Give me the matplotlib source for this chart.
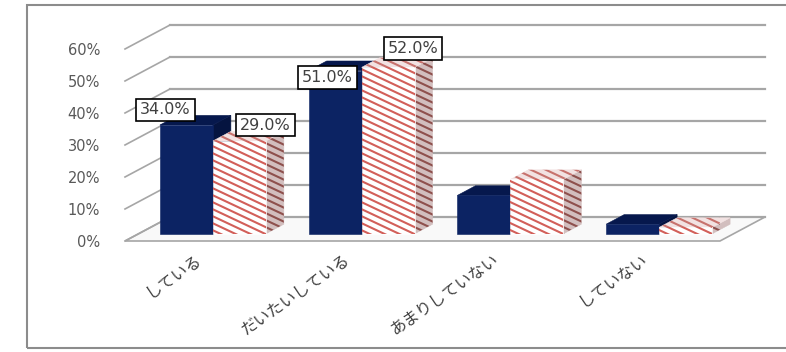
import numpy as np
import matplotlib.pyplot as plt
from matplotlib.patches import Polygon, Rectangle
from matplotlib.collections import LineCollection

categories = ['している', 'だいたいしている', 'あまりしていない', 'していない']
series_a = [34.0, 51.0, 12.0, 3.0]   # navy bars
series_b = [29.0, 52.0, 17.0, 2.0]   # hatched bars
labelled = [0, 1]                    # groups that carry data labels
yticks = [0, 10, 20, 30, 40, 50, 60]
ytick_labels = ['0%', '10%', '20%', '30%', '40%', '50%', '60%']

# label offsets in pixels (a, b) for each labelled group
label_off_a = [(-21, 15), (-8, -7)]
label_off_b = [(26, 16), (25, 19)]

W, H = 786, 352
fig = plt.figure(figsize=(W / 100, H / 100), dpi=100)
# front plane: x -0.5..3.5 -> px 125..720, y 0..60 -> px 241..49
ax = fig.add_axes([125 / W, (H - 241) / H, 595 / W, 192 / H])
ax.set_xlim(-0.5, 3.5)
ax.set_ylim(0, 60)
for s in ax.spines.values():
    s.set_visible(False)

px_x, px_y = 148.75, 3.2   # pixels per data unit
DX = 45 / px_x     # full depth, category units
DY = 24 / px_y     # full depth, percent units
f0, f1 = 0.3, 0.7  # bar front / back depth
bw = 0.356

grid_c = '#a6a6a6'
x_lo, x_hi = -0.5, 3.5

# floor
floor = Polygon([(x_lo, 0), (x_hi, 0), (x_hi + DX, DY), (x_lo + DX, DY)],
                closed=True, facecolor='#f9f9f9', edgecolor=grid_c, lw=1.2,
                clip_on=False, zorder=1)
ax.add_patch(floor)

# back wall gridlines and left wall diagonals
for v in yticks:
    ax.plot([x_lo + DX, x_hi + DX], [v + DY, v + DY], color=grid_c, lw=1.6,
            clip_on=False, zorder=2)
    ax.plot([x_lo, x_lo + DX], [v, v + DY], color=grid_c, lw=1.2,
            clip_on=False, zorder=2)

# stripe family for the hatched series (slope ~ -0.47 in pixels, 7 px apart)
slope = -0.47 * px_x / px_y
step = 7 / px_y
xs = np.array([-0.7, 4.0])
stripe_segs = [np.column_stack([xs, c + slope * (xs - xs[0])])
               for c in np.arange(-10, 160, step)]


def bar3d(x0, x1, v, front, top, side, stripes=None, z=3):
    ox0, oy0 = f0 * DX, f0 * DY
    ox1, oy1 = f1 * DX, f1 * DY
    faces = [
        ([(x1 + ox0, oy0), (x1 + ox1, oy1), (x1 + ox1, v + oy1), (x1 + ox0, v + oy0)], side),
        ([(x0 + ox0, v + oy0), (x1 + ox0, v + oy0), (x1 + ox1, v + oy1), (x0 + ox1, v + oy1)], top),
        ([(x0 + ox0, oy0), (x1 + ox0, oy0), (x1 + ox0, v + oy0), (x0 + ox0, v + oy0)], front),
    ]
    for pts, fc in faces:
        p = Polygon(pts, closed=True, facecolor=fc, edgecolor=fc, lw=0.4,
                    clip_on=False, zorder=z)
        ax.add_patch(p)
        if stripes:
            lc = LineCollection(stripe_segs, colors=stripes[fc], linewidths=1.5,
                                zorder=z)
            ax.add_collection(lc)
            lc.set_clip_path(p)


stripe_cols = {'#ffffff': '#d25f59', '#f2e2e2': '#c7726d', '#d2bebe': '#8e504d'}
z = 3
for i in range(len(categories)):
    bar3d(i - bw, i, series_a[i], '#0c2363', '#06184d', '#051440', z=z)
    z += 1
    bar3d(i, i + bw, series_b[i], '#ffffff', '#f2e2e2', '#d2bebe',
          stripes=stripe_cols, z=z)
    z += 1

# data labels
box = dict(boxstyle='square,pad=0.25', facecolor='white', edgecolor='black', lw=1.2)
for k, i in enumerate(labelled):
    for vals, xc, off in [(series_a, i - bw / 2, label_off_a[k]),
                          (series_b, i + bw / 2, label_off_b[k])]:
        v = vals[i]
        ax.annotate(f'{v:.1f}%', xy=(xc + f0 * DX, v + f0 * DY),
                    xytext=off, textcoords='offset pixels',
                    ha='center', va='center', fontsize=11.5, color='#404040',
                    family='DejaVu Sans', bbox=box, zorder=50,
                    annotation_clip=False)

ax.set_yticks(yticks)
ax.set_yticklabels(ytick_labels, fontsize=10.5, color='#595959', family='DejaVu Sans')
ax.set_xticks(range(len(categories)))
ax.set_xticklabels(categories, rotation=35, ha='right', va='center',
                   rotation_mode='anchor', fontsize=11.5, color='#404040',
                   family=['Noto Sans CJK JP', 'DejaVu Sans'])
ax.tick_params(axis='y', length=0, pad=18)
ax.tick_params(axis='x', length=0, pad=12)
ax.patch.set_visible(False)

# outer chart border
fig.patches.append(Rectangle((27 / W, 4 / H), 1.0, 343 / H, transform=fig.transFigure,
                             fill=False, edgecolor='#8c8c8c', lw=1.5))

fig.savefig('out.png', dpi=100)
